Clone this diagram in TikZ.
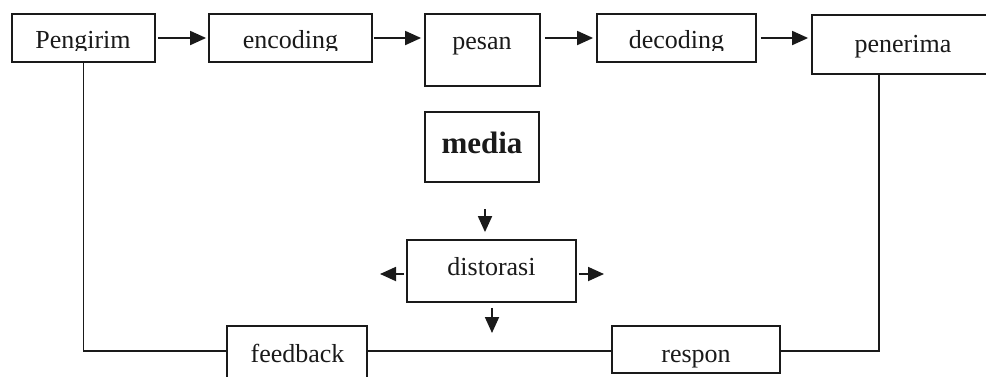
\documentclass[tikz,border=0pt]{standalone}
\usepackage{fontspec}
\setmainfont{Liberation Serif}
\usetikzlibrary{arrows.meta,calc}
\definecolor{ink}{HTML}{1A1A1A}
\tikzset{
  box/.style={draw=ink, line width=1.8pt, rectangle, inner sep=0pt},
  lbl/.style={text=ink, inner sep=0pt, anchor=base, font=\fontsize{26}{30}\selectfont},
  arr/.style={draw=ink, line width=1.8pt, -{Triangle[length=16pt,width=14pt]}},
  ln/.style={draw=ink, line width=1.8pt},
}
\begin{document}
\begin{tikzpicture}[x=1pt,y=-1pt]
\useasboundingbox[fill=white] (0,0) rectangle (986,376);
% top row boxes
\node[box, minimum width=143pt, minimum height=48pt] (pg)  at (83.5,38) {};
\node[box, minimum width=163pt, minimum height=48pt] (enc) at (290.5,38) {};
\node[box, minimum width=115pt, minimum height=72pt] (ps)  at (482.5,50) {};
\node[box, minimum width=159pt, minimum height=48pt] (dec) at (676.5,38) {};
\node[box, minimum width=182pt, minimum height=59pt] (pen) at (903,44.5) {};
% middle boxes
\node[box, minimum width=114pt, minimum height=70pt] (md)  at (482,147) {};
\node[box, minimum width=169pt, minimum height=62pt] (dst) at (491.5,271) {};
% bottom boxes
\node[box, minimum width=140pt, minimum height=56pt] (fb)  at (297,354) {};
\node[box, minimum width=168pt, minimum height=47pt] (rsp) at (696,349.5) {};
% labels (top row text cut at the bottom, as in the reference)
\begin{scope}
  \clip (0,0) rectangle (986,50);
  \node[lbl] (tpg)  at (83,48)    {Pengirim};
  \node[lbl] (tenc) at (290.5,48) {encoding};
  \node[lbl] (tdec) at (676.5,48) {decoding};
\end{scope}
\node[lbl] (tps)  at (482,49)   {pesan};
\node[lbl] (tpen) at (903,52)   {penerima};
\node[lbl, font=\fontsize{31}{36}\selectfont\bfseries] (tmd) at (482,153) {media};
\node[lbl] (tdst) at (491.5,275) {distorasi};
\node[lbl] (tfb)  at (297.5,362) {feedback};
\node[lbl] (trsp) at (696,362)   {respon};
% top arrows
\draw[arr, shorten <=2pt, shorten >=2pt] (pg.east) -- (enc.west);
\draw[arr, shorten <=1pt, shorten >=3pt] (enc.east) -- (enc.east -| ps.west);
\draw[arr, shorten <=4pt, shorten >=3pt] (ps.east |- dec.west) -- (dec.west);
\draw[arr, shorten <=4pt, shorten >=3pt] (dec.east) -- (dec.east -| pen.west);
% media / distorasi arrows
\coordinate (dtop) at (485,209);
\coordinate (dl) at (380,274);
\coordinate (dr) at (604,274);
\coordinate (db) at (492,333);
\draw[arr, shorten >=7pt] (dtop) -- (dtop |- dst.north);
\draw[arr, shorten <=2pt] (dst.west |- dl) -- (dl);
\draw[arr, shorten <=2pt] (dst.east |- dr) -- (dr);
\draw[arr, shorten <=5pt] (dst.south -| db) -- (db);
% feedback loop
\draw[ln] (pg.south) |- (fb.west |- 0,351);
\draw[ln] (fb.east |- 0,351) -- (rsp.west |- 0,351);
\draw[ln] (rsp.east |- 0,351) -| ([xshift=-24pt]pen.south);
\end{tikzpicture}
\end{document}
